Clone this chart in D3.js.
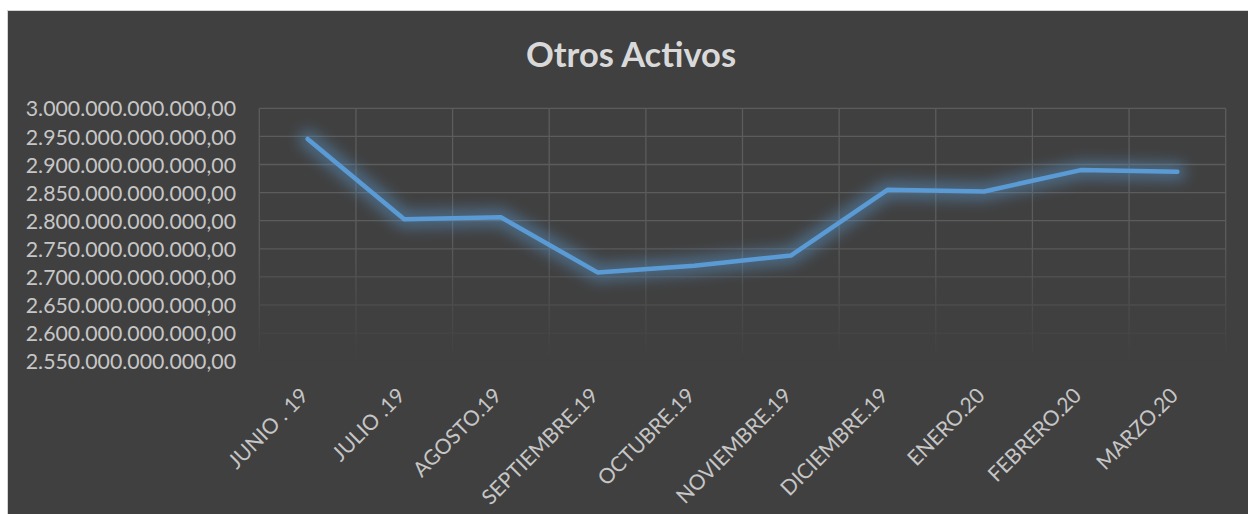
<!DOCTYPE html>
<html>
<head>
<meta charset="utf-8">
<script src="https://cdn.jsdelivr.net/npm/d3@7"></script>
<style>
  html, body { margin: 0; padding: 0; background: #ffffff; }
  svg { display: block; }
</style>
</head>
<body>
<script>
// ---- Data ----
const title = "Otros Activos";
const categories = ["JUNIO . 19", "JULIO .19", "AGOSTO.19", "SEPTIEMBRE.19", "OCTUBRE.19",
                    "NOVIEMBRE.19", "DICIEMBRE.19", "ENERO.20", "FEBRERO.20", "MARZO.20"];
const values = [2945.4e9, 2802.5e9, 2806e9, 2708e9, 2720e9,
                2738e9, 2855e9, 2852e9, 2890e9, 2887e9];
const yTicks = [2550e9, 2600e9, 2650e9, 2700e9, 2750e9, 2800e9, 2850e9, 2900e9, 2950e9, 3000e9];

// ---- Layout ----
const W = 1248, H = 514;
const plot = { left: 259.3, right: 1225.7, top: 108.3, bottom: 361.2 };

const locale = d3.formatLocale({ decimal: ",", thousands: ".", grouping: [3], currency: ["", ""] });
const fmt = locale.format(",.2f");

const svg = d3.select("body").append("svg").attr("width", W).attr("height", H);
const defs = svg.append("defs");

// fade mask for gridlines
const grad = defs.append("linearGradient").attr("id", "fadeGrad")
  .attr("gradientUnits", "userSpaceOnUse")
  .attr("x1", 0).attr("x2", 0).attr("y1", plot.top).attr("y2", plot.bottom);
grad.append("stop").attr("offset", 0).attr("stop-color", "#fff");
grad.append("stop").attr("offset", 0.5).attr("stop-color", "#fff");
grad.append("stop").attr("offset", 1).attr("stop-color", "#000");
defs.append("mask").attr("id", "fadeMask").attr("maskUnits", "userSpaceOnUse")
  .attr("x", 0).attr("y", 0).attr("width", W).attr("height", H)
  .append("rect").attr("x", 0).attr("y", plot.top - 5).attr("width", W)
  .attr("height", plot.bottom - plot.top + 10).attr("fill", "url(#fadeGrad)");

const glow = defs.append("filter").attr("id", "glow")
  .attr("x", "-10%").attr("y", "-40%").attr("width", "120%").attr("height", "180%");
glow.append("feGaussianBlur").attr("stdDeviation", 7);

// chart background
svg.append("rect").attr("x", 7.5).attr("y", 10.5).attr("width", W).attr("height", H)
  .attr("fill", "#404040").attr("stroke", "#d4d4d4").attr("stroke-width", 1);

// scales
const x = d3.scaleBand().domain(categories).range([plot.left, plot.right]).padding(0);
const y = d3.scaleLinear().domain([2550e9, 3000e9]).range([plot.bottom, plot.top]);

// gridlines
const grid = svg.append("g").attr("mask", "url(#fadeMask)")
  .attr("stroke", "#5c5c5c").attr("stroke-width", 1.3).attr("fill", "none");
grid.selectAll("line.h").data(yTicks).join("line").attr("class", "h")
  .attr("x1", plot.left).attr("x2", plot.right)
  .attr("y1", d => y(d)).attr("y2", d => y(d));
const vlines = categories.map(c => x(c)).concat([plot.right]);
grid.selectAll("line.v").data(vlines).join("line").attr("class", "v")
  .attr("x1", d => d).attr("x2", d => d)
  .attr("y1", plot.top).attr("y2", plot.bottom);

// y axis labels
const yAxis = d3.axisLeft(y).tickValues(yTicks).tickFormat(fmt).tickSize(0).tickPadding(0);
const gy = svg.append("g").attr("transform", "translate(236,0)").call(yAxis);
gy.select(".domain").remove();
gy.selectAll("text").attr("font-family", "Lato, 'Open Sans', sans-serif")
  .attr("font-size", 21.3).attr("fill", "#c6c6c6").attr("dy", "0.36em");

// x axis labels
const xLab = svg.append("g");
xLab.selectAll("text").data(categories).join("text")
  .attr("transform", d => `translate(${x(d) + x.bandwidth() / 2 + 2},${397}) rotate(-45)`)
  .attr("text-anchor", "end")
  .attr("font-family", "Lato, 'Open Sans', sans-serif")
  .attr("font-size", 21).attr("fill", "#c6c6c6")
  .text(d => d);

// line
const line = d3.line()
  .x((d, i) => x(categories[i]) + x.bandwidth() / 2)
  .y(d => y(d));

svg.append("path").datum(values).attr("d", line)
  .attr("fill", "none").attr("stroke", "#5b9bd5").attr("stroke-opacity", 0.45)
  .attr("stroke-width", 18).attr("stroke-linejoin", "round").attr("stroke-linecap", "round")
  .attr("filter", "url(#glow)");
svg.append("path").datum(values).attr("d", line)
  .attr("fill", "none").attr("stroke", "#5b9bd5")
  .attr("stroke-width", 4.5).attr("stroke-linejoin", "round").attr("stroke-linecap", "round");

// title
svg.append("text").attr("x", 631).attr("y", 66.5).attr("text-anchor", "middle")
  .attr("font-family", "Lato, 'Open Sans', sans-serif").attr("font-weight", "bold")
  .attr("font-size", 34.5).attr("fill", "#d9d9d9").text(title);
</script>
</body>
</html>
